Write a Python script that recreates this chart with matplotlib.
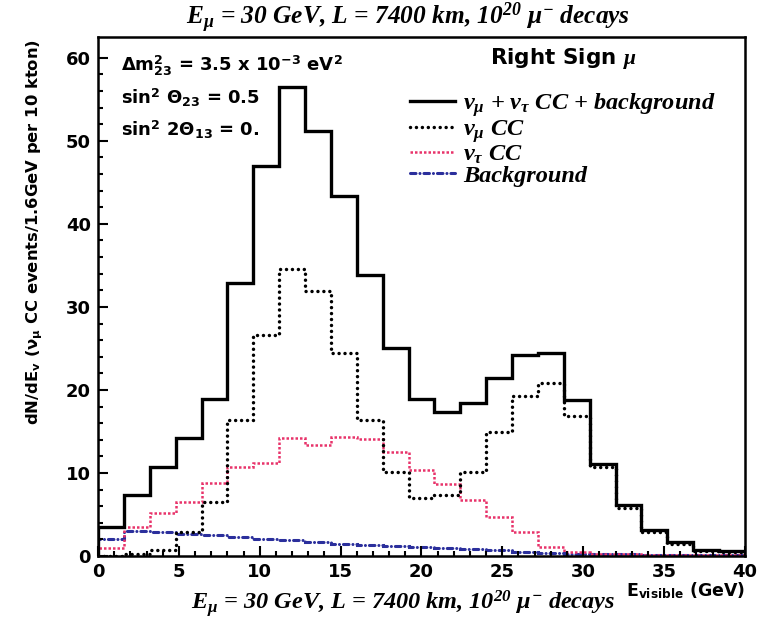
import numpy as np
import matplotlib
matplotlib.use("Agg")
import matplotlib.pyplot as plt
from matplotlib.lines import Line2D

plt.rcParams['mathtext.fontset'] = 'custom'
plt.rcParams['mathtext.rm'] = 'Liberation Serif:bold:italic'
plt.rcParams['mathtext.it'] = 'Liberation Serif:bold:italic'
plt.rcParams['mathtext.sf'] = 'DejaVu Sans:bold'
plt.rcParams['mathtext.bf'] = 'DejaVu Sans:bold'

# 25 bins of 1.6 GeV between 0 and 40 GeV
bin_width = 1.6
edges = np.arange(26) * bin_width

# events per bin
total = [3.5, 7.3, 10.7, 14.2, 18.9, 32.9, 47.0, 56.5, 51.2, 43.4, 33.9, 25.1, 18.9,
         17.3, 18.4, 21.4, 24.2, 24.5, 18.8, 11.1, 6.1, 3.1, 1.7, 0.7, 0.6]
numu_cc = [0.0, 0.3, 0.7, 2.9, 6.5, 16.4, 26.6, 34.6, 31.9, 24.5, 16.4, 10.1, 7.0,
           7.3, 10.1, 14.9, 19.3, 20.8, 16.9, 10.7, 5.8, 2.9, 1.5, 0.6, 0.5]
nutau_cc = [1.0, 3.5, 5.2, 6.5, 8.8, 10.7, 11.2, 14.2, 13.4, 14.3, 14.1, 12.5, 10.4,
            8.7, 6.7, 4.7, 2.9, 1.1, 0.5, 0.3, 0.2, 0.1, 0.1, 0.1, 0.1]
background = [2.0, 3.0, 2.9, 2.7, 2.5, 2.3, 2.1, 1.9, 1.7, 1.5, 1.3, 1.2, 1.1,
              1.0, 0.9, 0.7, 0.5, 0.4, 0.3, 0.2, 0.2, 0.1, 0.1, 0.1, 0.1]

red = '#e8336a'
blue = '#2b2f9c'
dots = (0, (0.01, 1.7))
reddots = (0, (1, 0.8))
dashdot = (0, (1.8, 1.3, 0.01, 1.3))

fig = plt.figure(figsize=(7.57, 6.23), dpi=100)
ax = fig.add_axes([0.1295, 0.1075, 0.8545, 0.8331])

ax.stairs(background, edges, color=blue, lw=2.2, linestyle=dashdot, capstyle='round')
ax.stairs(nutau_cc, edges, color=red, lw=1.8, linestyle=reddots)
ax.stairs(numu_cc, edges, color='black', lw=2.5, linestyle=dots, capstyle='round')
ax.stairs(total, edges, color='black', lw=2.4)

ax.set_xlim(0, 40)
ax.set_ylim(0, 62.5)
ax.set_xticks([0, 5, 10, 15, 20, 25, 30, 35, 40])
ax.set_xticks(np.arange(0, 41, 1), minor=True)
ax.set_yticks([0, 10, 20, 30, 40, 50, 60])
ax.set_yticks(np.arange(0, 62, 2), minor=True)
ax.tick_params(which='both', direction='in', top=False, right=False, width=1.5)
ax.tick_params(which='major', length=7, labelsize=13, pad=5)
ax.tick_params(which='minor', length=3.5)
for lab in ax.get_xticklabels() + ax.get_yticklabels():
    lab.set_fontfamily('DejaVu Sans')
    lab.set_fontweight('bold')
for sp in ax.spines.values():
    sp.set_linewidth(1.8)

sans = dict(family='DejaVu Sans', weight='bold')
serif = dict(family='Liberation Serif', weight='bold', style='italic')

title = r'E$_{\mu}$ = 30 GeV, L = 7400 km, 10$^{20}$ $\mu^{-}$ decays'
fig.text(0.539, 0.971, title, ha='center', va='center', fontsize=18.3, **serif)
fig.text(0.533, 0.006, title, ha='center', va='bottom', fontsize=17.5, **serif)

ax.set_ylabel(r'dN/dE$_\mathsf{v}$ ($\mathsf{\nu_{\mu}}$ CC events/1.6GeV per 10 kton)',
              fontsize=11.8, **sans)
ax.yaxis.set_label_coords(-0.082, 0.625)
fig.text(0.984, 0.052, r'E$_\mathsf{visible}$ (GeV)', ha='right', va='center',
         fontsize=12.5, **sans)

ax.text(0.035, 0.945, r'$\mathsf{\Delta}$m$^\mathsf{2}_\mathsf{23}$ = 3.5 x 10$^\mathsf{-3}$ eV$^\mathsf{2}$',
        transform=ax.transAxes, fontsize=13, va='center', **sans)
ax.text(0.035, 0.882, r'sin$^\mathsf{2}$ $\mathsf{\Theta}_\mathsf{23}$ = 0.5',
        transform=ax.transAxes, fontsize=13, va='center', **sans)
ax.text(0.035, 0.82, r'sin$^\mathsf{2}$ 2$\mathsf{\Theta}_\mathsf{13}$ = 0.',
        transform=ax.transAxes, fontsize=13, va='center', **sans)
ax.text(0.719, 0.958, r'Right Sign $\mu$', transform=ax.transAxes,
        fontsize=15.5, ha='center', va='center', **sans)

handles = [
    Line2D([], [], color='black', lw=2.4),
    Line2D([], [], color='black', lw=2.5, linestyle=dots, dash_capstyle='round'),
    Line2D([], [], color=red, lw=1.8, linestyle=reddots),
    Line2D([], [], color=blue, lw=2.2, linestyle=dashdot, dash_capstyle='round'),
]
labels = [
    r'ν$_{\mu}$ + ν$_{\tau}$ CC + background',
    r'ν$_{\mu}$ CC',
    r'ν$_{\tau}$ CC',
    'Background',
]
ax.legend(handles, labels, loc='upper left', bbox_to_anchor=(0.483, 0.895),
          frameon=False, borderaxespad=0, borderpad=0, handlelength=1.85,
          handletextpad=0.3, labelspacing=-0.05,
          prop=dict(family='Liberation Serif', weight='bold', style='italic', size=17.5))

fig.savefig('out.png', dpi=100)
